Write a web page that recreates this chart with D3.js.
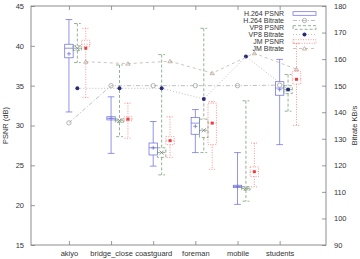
<!DOCTYPE html>
<html>
<head>
<meta charset="utf-8">
<script src="https://cdnjs.cloudflare.com/ajax/libs/d3/7.8.5/d3.min.js"></script>
<style>
  body { margin: 0; background: #fff; }
  svg { display: block; font-family: "Liberation Sans", Arial, sans-serif; }
</style>
</head>
<body>
<svg id="chart"></svg>
<script>
// categories (sequences)
const categories = ["akiyo", "bridge_close", "coastguard", "foreman", "mobile", "students"];

// PSNR stats per sequence: [min, q1, median, q3, max, mean]
const h264Psnr = [
  [31.7, 38.5, 39.7, 40.2, 43.3, 39.0],
  [26.5, 30.7, 30.9, 31.1, 33.6, 30.9],
  [24.9, 26.3, 27.2, 27.8, 30.5, 27.2],
  [26.6, 28.9, 30.3, 31.0, 32.0, 29.9],
  [20.1, 22.2, 22.35, 22.5, 26.6, 22.35],
  [27.6, 33.8, 34.7, 35.5, 38.3, 34.5]
];
const vp8Psnr = [
  [37.9, 39.4, 39.7, 40.0, 42.8, 39.7],
  [28.6, 30.4, 30.6, 30.8, 37.6, 30.6],
  [23.8, 26.0, 26.6, 27.2, 38.9, 26.6],
  [26.6, 28.5, 29.4, 30.8, 42.2, 29.4],
  [20.5, 21.9, 22.1, 22.3, 33.1, 22.1],
  [31.8, 34.0, 34.5, 35.0, 36.4, 34.5]
];
const jmPsnr = [
  [33.5, 39.9, 40.2, 40.7, 42.2, 39.7],
  [28.4, 30.6, 30.8, 31.1, 32.8, 30.8],
  [26.0, 27.6, 28.1, 28.6, 31.1, 28.1],
  [24.5, 27.6, 30.3, 32.8, 33.0, 30.3],
  [22.3, 23.6, 24.2, 24.8, 27.8, 24.2],
  [30.0, 35.2, 35.8, 36.8, 40.3, 35.8]
];

// average bitrate (KB/s)
const h264Bitrate = [136, 150, 150, 150, 150, 150.2];
const vp8Bitrate = [149, 149, 149, 145, 161, 148.6];
const jmBitrate = [159, 158.3, 159.2, 154.7, 162.2, 156.2];

const psnrTicks = [15, 20, 25, 30, 35, 40, 45];
const bitrateTicks = [90, 100, 110, 120, 130, 140, 150, 160, 170, 180];

const width = 360, height = 259;
const margin = { top: 6, right: 34, bottom: 14, left: 31 };

const svg = d3.select("#chart").attr("width", width).attr("height", height);
svg.append("rect").attr("width", width).attr("height", height).attr("fill", "#fff");

const x = d3.scaleLinear().domain([0.1, 7.1]).range([margin.left, width - margin.right]);
const y = d3.scaleLinear().domain([15, 45]).range([height - margin.bottom, margin.top]);
const y2 = d3.scaleLinear().domain([90, 180]).range([height - margin.bottom, margin.top]);

const fontSize = 7.5;
const axisColor = "#808080";
const textColor = "#333";

// axes (ticks point inward like gnuplot)
const styleAxis = g => {
  g.select(".domain").remove();
  g.selectAll(".tick line").attr("stroke", axisColor).attr("stroke-width", 0.8);
  g.selectAll(".tick text").attr("fill", textColor).attr("font-size", fontSize);
};

svg.append("g")
  .attr("transform", `translate(${margin.left},0)`)
  .call(d3.axisLeft(y).tickValues(psnrTicks).tickSizeInner(-4).tickSizeOuter(0).tickPadding(7))
  .call(styleAxis);

svg.append("g")
  .attr("transform", `translate(${width - margin.right},0)`)
  .call(d3.axisRight(y2).tickValues(bitrateTicks).tickSizeInner(-4).tickSizeOuter(0).tickPadding(8))
  .call(styleAxis);

svg.append("g")
  .attr("transform", `translate(0,${height - margin.bottom})`)
  .call(d3.axisBottom(x).tickValues(categories.map((d, i) => i + 1))
    .tickFormat((d, i) => categories[i]).tickSizeInner(-4).tickSizeOuter(0).tickPadding(6))
  .call(styleAxis);

svg.append("g")
  .attr("transform", `translate(0,${margin.top})`)
  .call(d3.axisTop(x).tickValues(categories.map((d, i) => i + 1)).tickFormat("").tickSizeInner(-4).tickSizeOuter(0))
  .call(styleAxis);

svg.append("rect")
  .attr("x", margin.left).attr("y", margin.top)
  .attr("width", width - margin.left - margin.right)
  .attr("height", height - margin.top - margin.bottom)
  .attr("fill", "none").attr("stroke", axisColor).attr("stroke-width", 0.9);

// axis titles
svg.append("text")
  .attr("transform", `translate(8,${(margin.top + height - margin.bottom) / 2}) rotate(-90)`)
  .attr("text-anchor", "middle").attr("font-size", fontSize).attr("fill", textColor)
  .text("PSNR (dB)");
svg.append("text")
  .attr("transform", `translate(357,${(margin.top + height - margin.bottom) / 2}) rotate(-90)`)
  .attr("text-anchor", "middle").attr("font-size", fontSize).attr("fill", textColor)
  .text("Bitrate KB/s");

// series definitions
const boxSeries = [
  { name: "H.264 PSNR", data: h264Psnr, offset: 0, color: "#7070e0", dash: null, mark: "plus" },
  { name: "VP8 PSNR", data: vp8Psnr, offset: 0.2, color: "#6f9a6f", dash: "3,2", mark: "cross" },
  { name: "JM PSNR", data: jmPsnr, offset: 0.4, color: "#ff7070", dash: "1,1.5", mark: "square" }
];
const lineSeries = [
  { name: "H.264 Bitrate", data: h264Bitrate, offset: 0, color: "#aaa", dash: "4,2,1,2", mark: "circle" },
  { name: "VP8 Bitrate", data: vp8Bitrate, offset: 0.2, color: "#aaa", dash: "1,2", mark: "dot" },
  { name: "JM Bitrate", data: jmBitrate, offset: 0.4, color: "#b8b0a8", dash: "3,3", mark: "triangle" }
];

const boxW = x(0.2) - x(0);
const capW = x(0.16) - x(0);

function drawMark(g, type, cx, cy, color) {
  if (type === "plus") {
    g.append("path").attr("d", `M${cx - 2},${cy}H${cx + 2}M${cx},${cy - 2}V${cy + 2}`)
      .attr("stroke", color).attr("fill", "none").attr("stroke-width", 0.8);
  } else if (type === "cross") {
    g.append("path").attr("d", `M${cx - 2},${cy - 2}L${cx + 2},${cy + 2}M${cx - 2},${cy + 2}L${cx + 2},${cy - 2}`)
      .attr("stroke", color).attr("fill", "none").attr("stroke-width", 0.7);
  } else if (type === "square") {
    g.append("rect").attr("x", cx - 1.5).attr("y", cy - 1.5).attr("width", 3).attr("height", 3).attr("fill", "#e84040");
  } else if (type === "circle") {
    g.append("circle").attr("cx", cx).attr("cy", cy).attr("r", 2.2)
      .attr("fill", "none").attr("stroke", color).attr("stroke-width", 0.7);
  } else if (type === "dot") {
    g.append("circle").attr("cx", cx).attr("cy", cy).attr("r", 2).attr("fill", "#2a2a78");
  } else if (type === "triangle") {
    g.append("path").attr("d", `M${cx - 2.2},${cy + 1.5}L${cx},${cy - 1.9}L${cx + 2.2},${cy + 1.5}Z`)
      .attr("fill", "none").attr("stroke", "#b09a88").attr("stroke-width", 0.7);
  }
}

// boxes
boxSeries.forEach(s => {
  const g = svg.append("g");
  s.data.forEach((d, i) => {
    const cx = x(i + 1 + s.offset);
    const [mn, q1, med, q3, mx, mean] = d;
    const line = (x1, y1, x2, y2v) => g.append("line")
      .attr("x1", x1).attr("y1", y1).attr("x2", x2).attr("y2", y2v)
      .attr("stroke", s.color).attr("stroke-width", 0.75).attr("stroke-dasharray", s.dash);
    line(cx, y(mx), cx, y(q3));
    line(cx, y(q1), cx, y(mn));
    line(cx - capW / 2, y(mx), cx + capW / 2, y(mx));
    line(cx - capW / 2, y(mn), cx + capW / 2, y(mn));
    g.append("rect")
      .attr("x", cx - boxW / 2).attr("y", y(q3))
      .attr("width", boxW).attr("height", Math.max(1, y(q1) - y(q3)))
      .attr("fill", "none").attr("stroke", s.color).attr("stroke-width", 0.75)
      .attr("stroke-dasharray", s.dash);
    line(cx - boxW / 2, y(med), cx + boxW / 2, y(med));
    drawMark(g, s.mark, cx, y(mean), s.mark === "cross" ? "#666" : s.color);
  });
});

// bitrate lines
lineSeries.forEach(s => {
  const g = svg.append("g");
  g.append("path")
    .datum(s.data)
    .attr("d", d3.line().x((d, i) => x(i + 1 + s.offset)).y(d => y2(d)))
    .attr("fill", "none").attr("stroke", s.color).attr("stroke-width", 0.75)
    .attr("stroke-dasharray", s.dash);
  s.data.forEach((d, i) => drawMark(g, s.mark, x(i + 1 + s.offset), y2(d), "#999"));
});

// legend
const legend = svg.append("g");
const legendItems = [boxSeries[0], lineSeries[0], boxSeries[1], lineSeries[1], boxSeries[2], lineSeries[2]];
legendItems.forEach((s, i) => {
  const ly = 13.5 + i * 7;
  legend.append("text").attr("x", 284).attr("y", ly + 2.5)
    .attr("text-anchor", "end").attr("font-size", 7).attr("fill", textColor).text(s.name);
  if (s.name.includes("PSNR")) {
    legend.append("rect").attr("x", 293).attr("y", ly - 1.8).attr("width", 23).attr("height", 3.6)
      .attr("fill", "none").attr("stroke", s.color).attr("stroke-width", 0.75).attr("stroke-dasharray", s.dash);
  } else {
    legend.append("line").attr("x1", 293).attr("x2", 316).attr("y1", ly).attr("y2", ly)
      .attr("stroke", s.color).attr("stroke-width", 0.75).attr("stroke-dasharray", s.dash);
    drawMark(legend, s.mark, 304.5, ly, "#999");
  }
});
</script>
</body>
</html>
